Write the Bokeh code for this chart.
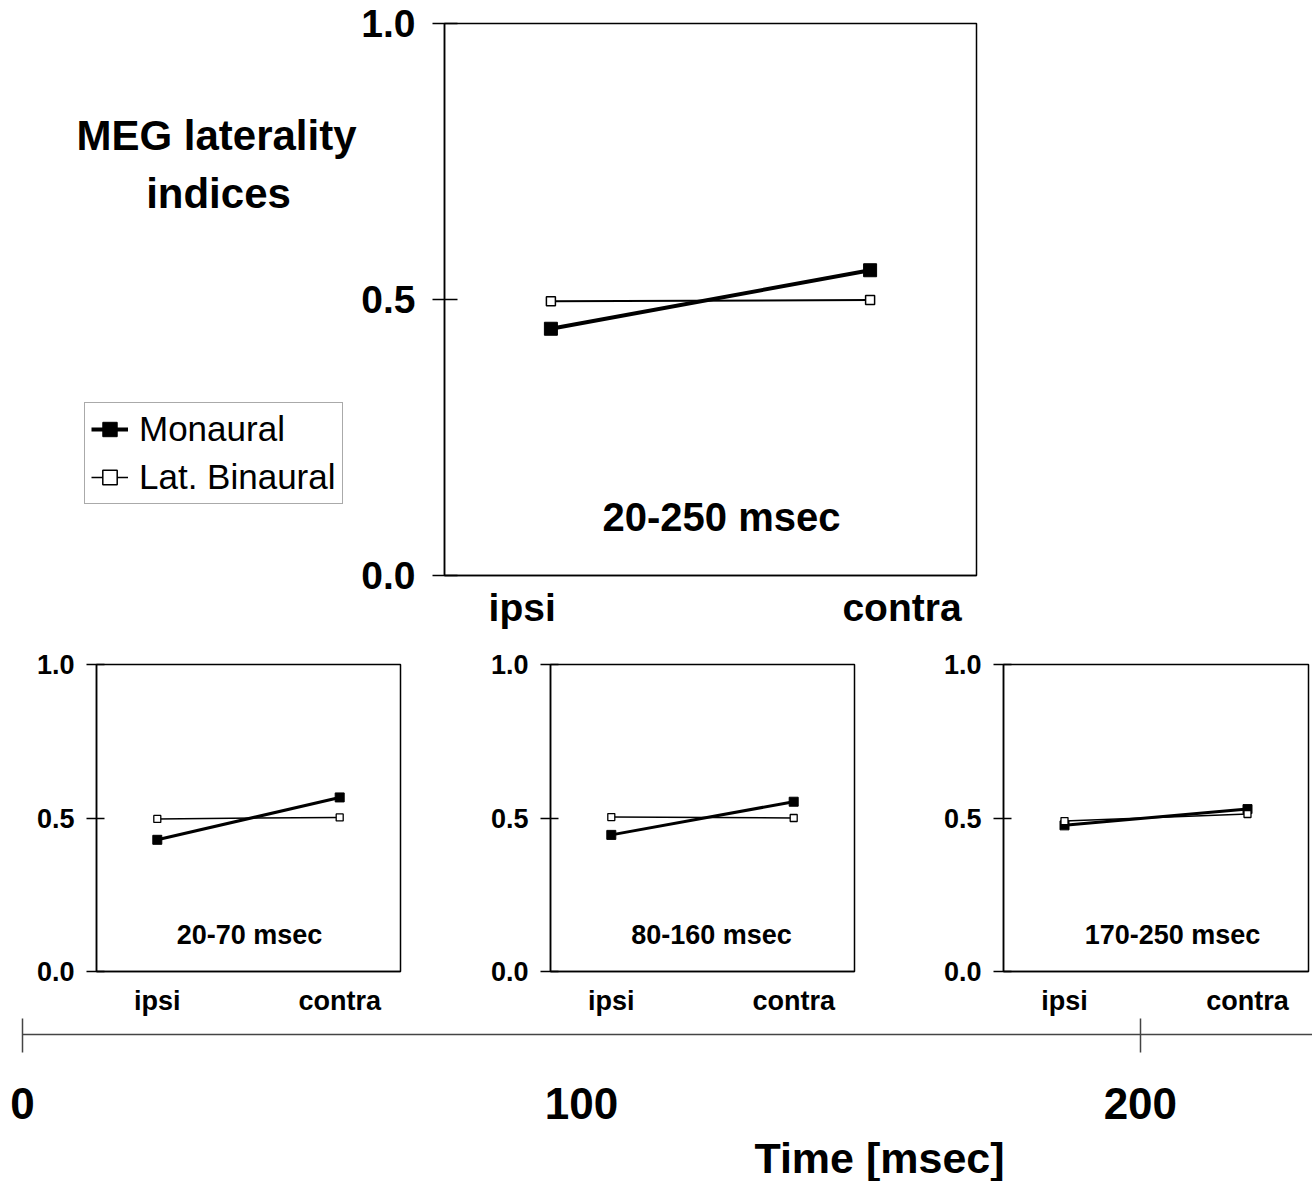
from bokeh.plotting import figure
from bokeh.models import Range1d, FixedTicker, Legend, LegendItem, Label, NumeralTickFormatter
from bokeh.layouts import column, row
from bokeh.embed import file_html
from bokeh.resources import INLINE

FONT = "Liberation Sans"

# ---------------- data ----------------
conditions = ["ipsi", "contra"]
cond_pos = [0, 1]

# whole window 20-250 msec
mono_all = [0.447, 0.553]
bin_all = [0.497, 0.499]

# sub windows
windows = ["20-70 msec", "80-160 msec", "170-250 msec"]
mono_win = [[0.429, 0.567], [0.445, 0.553], [0.476, 0.529]]
bin_win = [[0.497, 0.502], [0.503, 0.500], [0.490, 0.513]]

y_ticks = [0.0, 0.5, 1.0]
big_label_pos = [-0.09, 1.10]   # label anchor positions on big panel axis

time_ticks = [0, 100, 200]
time_marks = [0, 200]

series_names = ["Monaural", "Lat. Binaural"]


def base_style(p, font_px, tick_in, tick_out, ystand, xstand):
    p.outline_line_color = "black"
    p.outline_line_width = 1.5
    p.xgrid.visible = False
    p.ygrid.visible = False
    ya = p.yaxis[0]
    ya.ticker = FixedTicker(ticks=y_ticks)
    ya.formatter = NumeralTickFormatter(format="0.0")
    ya.major_tick_in = tick_in
    ya.major_tick_out = tick_out
    ya.major_tick_line_width = 1.5
    ya.major_tick_line_color = "black"
    ya.minor_tick_line_color = None
    ya.axis_line_width = 1.5
    ya.axis_line_color = "black"
    ya.major_label_standoff = ystand
    ya.major_label_text_font = FONT
    ya.major_label_text_font_style = "bold"
    ya.major_label_text_font_size = f"{font_px}px"
    ya.major_label_text_color = "black"
    xa = p.xaxis[0]
    xa.major_tick_line_color = None
    xa.minor_tick_line_color = None
    xa.major_tick_out = 0
    xa.major_tick_in = 0
    xa.axis_line_color = "black"
    xa.axis_line_width = 1.5
    xa.major_label_standoff = xstand
    xa.major_label_text_font = FONT
    xa.major_label_text_font_style = "bold"
    xa.major_label_text_font_size = f"{font_px}px"
    xa.major_label_text_color = "black"


def bare(p):
    p.outline_line_color = None
    p.xgrid.visible = False
    p.ygrid.visible = False


title_kw = dict(x_units="screen", y_units="screen", text_font=FONT, text_font_style="bold",
                text_align="center", text_baseline="middle", text_color="black")

# ---------------- big panel ----------------
TOP_H = 646
LEFT_W = 358
p0 = figure(width=1312 - LEFT_W, height=TOP_H, x_range=Range1d(-1 / 3, 4 / 3), y_range=Range1d(0, 1),
            min_border_left=443 - LEFT_W, min_border_right=1312 - 976, min_border_top=23,
            min_border_bottom=71, output_backend="svg", toolbar_location=None)
base_style(p0, 39, 13, 12, 17, 10)
p0.xaxis[0].ticker = FixedTicker(ticks=big_label_pos)
p0.xaxis[0].major_label_overrides = {big_label_pos[0]: conditions[0], big_label_pos[1]: conditions[1]}

p0.line(cond_pos, mono_all, line_color="black", line_width=4)
p0.scatter(cond_pos, mono_all, marker="square", size=13, fill_color="black", line_color="black")
p0.line(cond_pos, bin_all, line_color="black", line_width=2)
p0.scatter(cond_pos, bin_all, marker="square", size=9, fill_color="white", line_color="black",
           line_width=1.5)
p0.add_layout(Label(x=277, y=59, text="20-250 msec", text_font_size="40px", **title_kw))

# ---------------- left area: heading + legend ----------------
# legend proxies carry the same data, but this area's ranges keep them out of view
pL = figure(width=LEFT_W, height=TOP_H, x_range=Range1d(10, 11), y_range=Range1d(0, 1),
            min_border_left=0, min_border_right=0, min_border_top=23, min_border_bottom=71,
            x_axis_location=None, y_axis_location=None,
            output_backend="svg", toolbar_location=None)
bare(pL)
lm = pL.line(cond_pos, mono_all, line_color="black", line_width=4)
sm = pL.scatter(cond_pos, mono_all, marker="square", size=11, fill_color="black", line_color="black")
lb = pL.line(cond_pos, bin_all, line_color="black", line_width=1.5)
sb = pL.scatter(cond_pos, bin_all, marker="square", size=8, fill_color="white", line_color="black",
                line_width=1.5)
legend = Legend(items=[LegendItem(label=series_names[0], renderers=[lm, sm]),
                       LegendItem(label=series_names[1], renderers=[lb, sb])],
                location=(84, 71), padding=6, spacing=8, glyph_width=37, glyph_height=36,
                label_height=36, label_standoff=11, label_text_font=FONT, label_text_font_size="35px",
                label_text_color="black", border_line_color="#555555", border_line_width=1,
                background_fill_color="white", margin=0)
pL.add_layout(legend, "center")
pL.add_layout(Label(x=216, y=440, text="MEG laterality", text_font_size="42px", **title_kw))
pL.add_layout(Label(x=218, y=382, text="indices", text_font_size="42px", **title_kw))

# ---------------- small panels ----------------
widths = [478, 455, 379]
lefts = [96, 72, 70]
rights = [78, 79, 4]
title_dx = [153, 161, 169]
small = []
for i in range(3):
    p = figure(width=widths[i], height=372, x_range=Range1d(-1 / 3, 4 / 3), y_range=Range1d(0, 1),
               min_border_left=lefts[i], min_border_right=rights[i], min_border_top=18,
               min_border_bottom=45, output_backend="svg", toolbar_location=None)
    base_style(p, 27, 8, 10, 12, 14)
    p.xaxis[0].ticker = FixedTicker(ticks=cond_pos)
    p.xaxis[0].major_label_overrides = {cond_pos[0]: conditions[0], cond_pos[1]: conditions[1]}
    p.line(cond_pos, mono_win[i], line_color="black", line_width=3)
    p.scatter(cond_pos, mono_win[i], marker="square", size=9, fill_color="black", line_color="black")
    p.line(cond_pos, bin_win[i], line_color="black", line_width=1.5)
    p.scatter(cond_pos, bin_win[i], marker="square", size=7, fill_color="white", line_color="black",
              line_width=1.3)
    p.add_layout(Label(x=title_dx[i], y=37, text=windows[i], text_font_size="27px", **title_kw))
    small.append(p)

# ---------------- time axis ----------------
pt = figure(width=1312, height=114, x_range=Range1d(0, 230.8), y_range=Range1d(0, 1),
            min_border_left=22, min_border_right=0, min_border_top=0, min_border_bottom=98,
            y_axis_location=None, output_backend="svg", toolbar_location=None)
bare(pt)
ta = pt.xaxis[0]
ta.ticker = FixedTicker(ticks=time_ticks, minor_ticks=time_marks)
ta.major_tick_line_color = None
ta.major_tick_in = 0
ta.major_tick_out = 18
ta.minor_tick_in = 16
ta.minor_tick_out = 18
ta.minor_tick_line_color = "#444444"
ta.minor_tick_line_width = 1.5
ta.axis_line_color = "#444444"
ta.axis_line_width = 1.5
ta.major_label_standoff = 35
ta.major_label_text_font = FONT
ta.major_label_text_font_style = "bold"
ta.major_label_text_font_size = "44px"
ta.major_label_text_color = "black"

# axis title strip
pT = figure(width=1312, height=49, x_range=Range1d(0, 1), y_range=Range1d(0, 1),
            min_border_left=0, min_border_right=0, min_border_top=0, min_border_bottom=0,
            x_axis_location=None, y_axis_location=None, output_backend="svg", toolbar_location=None)
bare(pT)
pT.add_layout(Label(x=879, y=24, text="Time [msec]", text_font_size="43px", **title_kw))

layout = column(row(pL, p0), row(*small), row(pt), row(pT))
open("out.html", "w").write(file_html(layout, INLINE))
